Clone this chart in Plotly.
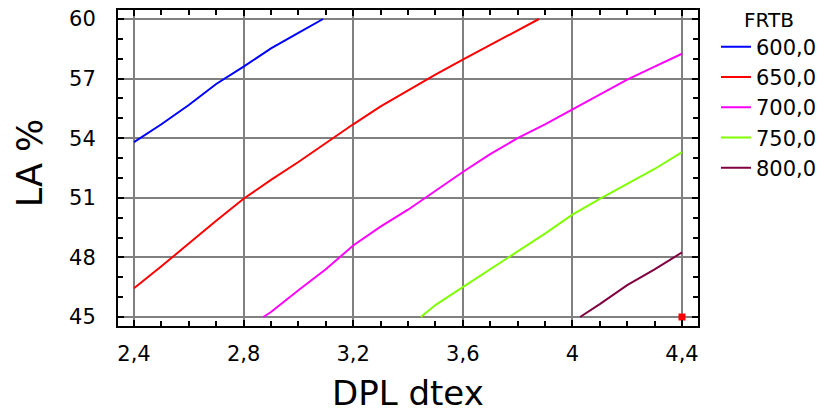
import plotly.graph_objects as go

# Contour levels (FRTB) and traced iso-lines (DPL dtex, LA %)
levels = ["600,0", "650,0", "700,0", "750,0", "800,0"]
colors = ["#0000FF", "#FF0000", "#FF00FF", "#80FF00", "#800040"]

x600 = [2.4, 2.5, 2.6, 2.7, 2.8, 2.9, 3.0, 3.09]
y600 = [53.8, 54.7, 55.67, 56.73, 57.6, 58.52, 59.3, 60.0]

x650 = [2.4, 2.5, 2.6, 2.7, 2.8, 2.9, 3.0, 3.1, 3.2, 3.3, 3.4, 3.5, 3.6, 3.7, 3.8, 3.878]
y650 = [46.45, 47.55, 48.7, 49.85, 50.95, 51.9, 52.8, 53.75, 54.7, 55.6, 56.4, 57.2, 57.95, 58.7, 59.45, 60.0]

x700 = [2.872, 2.9, 3.0, 3.1, 3.2, 3.3, 3.4, 3.5, 3.6, 3.7, 3.8, 3.9, 4.0, 4.1, 4.2, 4.3, 4.4]
y700 = [45.0, 45.25, 46.35, 47.4, 48.6, 49.55, 50.4, 51.35, 52.3, 53.2, 54.0, 54.7, 55.45, 56.2, 56.95, 57.6, 58.25]

x750 = [3.447, 3.5, 3.6, 3.7, 3.8, 3.9, 4.0, 4.1, 4.2, 4.3, 4.4]
y750 = [45.0, 45.6, 46.5, 47.4, 48.3, 49.2, 50.15, 50.95, 51.7, 52.45, 53.3]

x800 = [4.028, 4.1, 4.2, 4.3, 4.4]
y800 = [45.0, 45.65, 46.6, 47.4, 48.25]

opt_x = [4.4]
opt_y = [45.0]

xs = [x600, x650, x700, x750, x800]
ys = [y600, y650, y700, y750, y800]

x_ticks = [2.4, 2.8, 3.2, 3.6, 4.0, 4.4]
y_ticks = [45, 48, 51, 54, 57, 60]

FONT = "DejaVu Sans, Arial, sans-serif"

fig = go.Figure()
for lv, c, xv, yv in zip(levels, colors, xs, ys):
    fig.add_trace(go.Scatter(x=xv, y=yv, mode="lines", name=lv,
                             line=dict(color=c, width=2)))
fig.add_trace(go.Scatter(x=opt_x, y=opt_y, mode="markers", showlegend=False,
                         marker=dict(color="#FF0000", symbol="square", size=7)))

# page body has an 8px margin, so the figure is 8px smaller and margins shifted
fig.update_layout(
    width=825, height=404,
    margin=dict(l=110, r=135, t=2, b=86, autoexpand=False),
    paper_bgcolor="white", plot_bgcolor="white",
    separators=", ",
    font=dict(family=FONT, color="black", size=21),
    legend=dict(
        title=dict(text="FRTB", font=dict(size=20), side="top center"),
        x=1.031, y=1.03, xanchor="left", yanchor="top",
        font=dict(size=21), tracegroupgap=0, itemwidth=30,
        bgcolor="rgba(0,0,0,0)",
    ),
    showlegend=True,
    annotations=[
        dict(text="DPL dtex", xref="paper", yref="paper", x=0.5, y=-0.212,
             xanchor="center", yanchor="middle", showarrow=False, borderpad=0,
             font=dict(size=34, family=FONT)),
        dict(text="LA %", xref="paper", yref="paper", x=-0.1517, y=0.515,
             xanchor="center", yanchor="middle", showarrow=False, textangle=-90,
             borderpad=0, font=dict(size=35, family=FONT)),
    ],
)

common = dict(
    showline=True, linecolor="black", linewidth=2, mirror="allticks",
    showgrid=True, gridcolor="#808080", gridwidth=2, zeroline=False,
    ticks="inside", ticklen=6, tickcolor="black", tickwidth=1.5,
    automargin=False, ticklabeloverflow="allow",
)

fig.update_xaxes(
    range=[2.3416, 4.4584], tickvals=x_ticks,
    ticktext=[f"{v:g}".replace(".", ",") for v in x_ticks],
    minor=dict(ticks="inside", ticklen=5, dtick=0.1, tick0=2.4,
               tickcolor="black", tickwidth=1.5, showgrid=False),
    tickfont=dict(size=21, family=FONT),
    ticklabelstandoff=8,
    **common,
)
fig.update_yaxes(
    range=[44.547, 60.453], tickvals=y_ticks,
    minor=dict(ticks="inside", ticklen=5, dtick=1, tick0=45,
               tickcolor="black", tickwidth=1.5, showgrid=False),
    tickfont=dict(size=21, family=FONT),
    ticklabelstandoff=16,
    **common,
)

fig.write_html("out.html")
